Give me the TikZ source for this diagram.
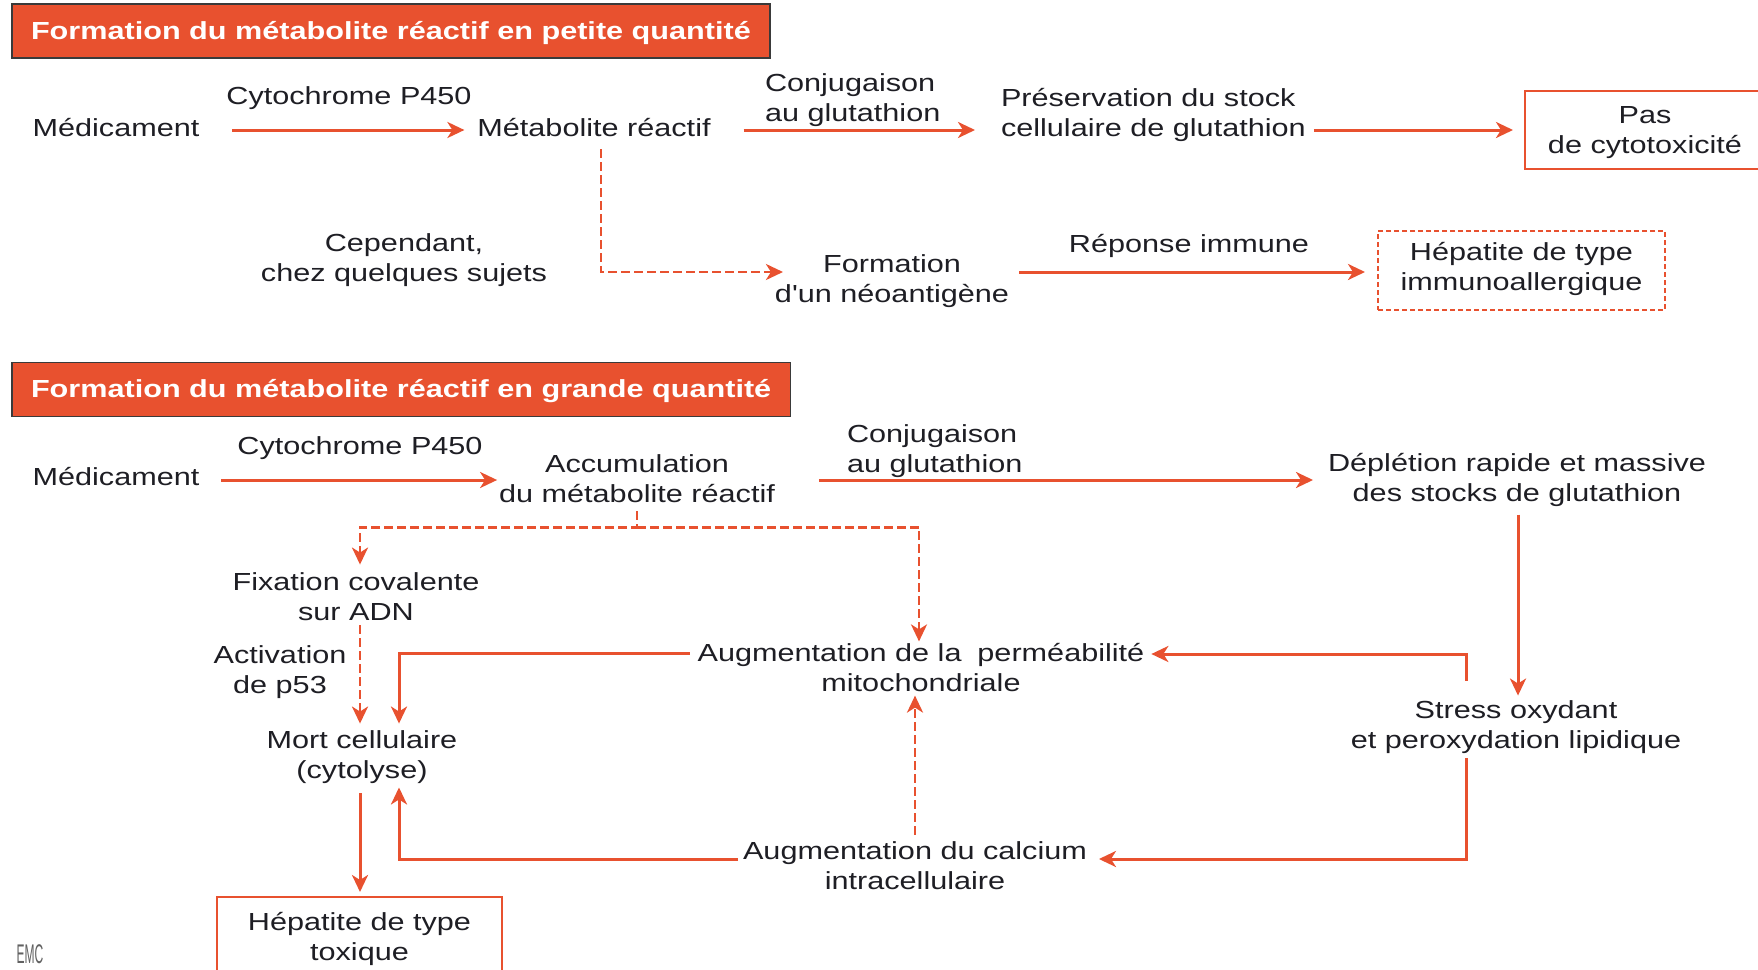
\documentclass[tikz,border=0pt]{standalone}
\usepackage{fontspec}
\setmainfont{Liberation Sans}[FakeStretch=1.24]
\newfontfamily\plainap{Liberation Sans}[FakeStretch=1.24]
\usetikzlibrary{arrows.meta}
\definecolor{org}{HTML}{E8512F}
\definecolor{ink}{HTML}{1E1E24}
\definecolor{frame}{HTML}{3A3A3A}
\newcommand{\mystrut}{\rule[-9pt]{0pt}{30pt}}
\newcommand{\tallstrut}{\rule[-9pt]{0pt}{34pt}}
\begin{document}
\begin{tikzpicture}[x=1pt,y=-1pt,
  every node/.style={inner sep=0pt, outer sep=0pt, text=ink,
    font=\fontsize{24.7}{30}\selectfont,
    execute at begin node=\mystrut, execute at end node=\mystrut},
  titlebox/.style={anchor=west, fill=org, draw=frame, line width=1.5pt,
    inner xsep=19pt, minimum height=54pt, text=white,
    font=\fontsize{24.7}{30}\selectfont\bfseries,
    execute at begin node=\tallstrut},
  okbox/.style={draw=org, line width=1.8pt},
  dbox/.style={draw=org, line width=1.5pt, dash pattern=on 5pt off 3pt, align=center},
  arr/.style={draw=org, line width=3pt, -{Stealth[length=17pt,width=16pt,inset=5pt]}},
  darr/.style={arr, line width=2.8pt, dash pattern=on 9pt off 4pt}]
\useasboundingbox (0,0) rectangle (1758,969);

% ---------- section 1 ----------
\node[titlebox] (t1) at (12,31) {Formation du métabolite réactif en petite quantité};
\node (med1) at (116,130) {Médicament};
\node (cyt1) at (349,98) {Cytochrome P450};
\node (met1) at (594,130) {Métabolite réactif};
\node[align=left, anchor=west] (conj1) at (765,102) {Conjugaison\\au glutathion};
\node[align=left, anchor=west] (pres1) at (1001,117) {Préservation du stock\\cellulaire de glutathion};
\node[okbox, minimum width=240pt, minimum height=78pt] (pas) at (1645,130) {};
\node[align=center] (pastxt) at (1645,134.5) {Pas\\de cytotoxicité};
\node[align=center] (cep) at (404,262) {Cependant,\\chez quelques sujets};
\node[align=center] (form) at (892,283) {Formation\\d{\plainap'}un néoantigène};
\node (rep) at (1189,246) {Réponse immune};
\node[dbox, minimum width=287pt, minimum height=79pt] (immuno) at (1521.5,270.5) {Hépatite de type\\immunoallergique};

\draw[arr, shorten <=33pt, shorten >=13pt] (med1) -- (met1);
\draw[arr, shorten <=33pt, shorten >=26pt] (met1) -- ([yshift=-13pt]pres1.west);
\draw[arr, shorten <=8pt, shorten >=12pt] ([yshift=-13pt]pres1.east) -- (pas);
\draw[darr] ([xshift=7pt,yshift=-4pt]met1.south) |- ([xshift=8pt,yshift=11pt]form.west);
\draw[arr, shorten <=10pt, shorten >=13pt] ([yshift=11pt]form.east) -- ([yshift=-1.5pt]immuno.west);

% ---------- section 2 ----------
\node[titlebox] (t2) at (12,389.5) {Formation du métabolite réactif en grande quantité};
\node (med2) at (116,479) {Médicament};
\node (cyt2) at (360,448) {Cytochrome P450};
\node[align=center] (acc) at (637,483) {Accumulation\\du métabolite réactif};
\node[align=left, anchor=west] (conj2) at (847,453) {Conjugaison\\au glutathion};
\node[align=center] (depl) at (1517,482) {Déplétion rapide et massive\\des stocks de glutathion};
\node[align=center] (fix) at (356,601) {Fixation covalente\\sur ADN};
\node[align=center] (act) at (280,674) {Activation\\de p53};
\node[align=center] (mort) at (362,759) {Mort cellulaire\\(cytolyse)};
\node[align=center] (perm) at (921,672) {Augmentation de la\hspace{0.3em} perméabilité\\mitochondriale};
\node[align=center] (stress) at (1516,729) {Stress oxydant\\et peroxydation lipidique};
\node[align=center] (calc) at (915,870) {Augmentation du calcium\\intracellulaire};
\node[okbox, minimum width=285pt, minimum height=84pt] (tox) at (359.5,939) {};
\node[align=center] (toxtxt) at (359.5,941) {Hépatite de type\\toxique};
\node[execute at begin node={}, execute at end node={}, text=frame!80,
  font=\fontsize{27}{27}\selectfont] (emc) at (30,957) {\scalebox{0.36}[1]{EMC}};

\draw[arr, shorten <=22pt, shorten >=2pt] ([yshift=-1pt]med2.east) -- ([yshift=3pt]acc.west);
\draw[arr, shorten <=44pt, shorten >=15pt] ([yshift=3pt]acc.east) -- ([yshift=2pt]depl.west);
\draw[darr] (acc.south) -- ++(0,16) coordinate (j) -| ([xshift=4pt,yshift=8pt]fix.north);
\draw[darr] (j) -| ([xshift=-2pt,yshift=2pt]perm.north);
\draw[darr, shorten >=7pt] ([xshift=4pt,yshift=4pt]fix.south) -- ([xshift=-2pt]mort.north);
\draw[arr] ([xshift=-8pt,yshift=19pt]perm.west) -| ([xshift=37pt,yshift=7pt]mort.north);
\draw[arr] ([xshift=-5pt,yshift=11pt]calc.west) -| ([xshift=37pt]mort.south);
\draw[arr, shorten <=6pt, shorten >=5pt] ([xshift=-2pt]mort.south) -- ([xshift=0.5pt]tox.north);
\draw[arr, shorten <=4pt, shorten >=5pt] ([xshift=1pt]depl.south) -- ([xshift=2pt]stress.north);
\draw[arr] ([xshift=-50pt,yshift=20pt]stress.north) |- ([xshift=7pt,yshift=18pt]perm.east);
\draw[arr] ([xshift=-50pt,yshift=-1pt]stress.south) |- ([xshift=12pt,yshift=11pt]calc.east);
\draw[darr] ([yshift=7pt]calc.north) -- ([xshift=-6pt,yshift=5pt]perm.south);
\end{tikzpicture}
\end{document}
